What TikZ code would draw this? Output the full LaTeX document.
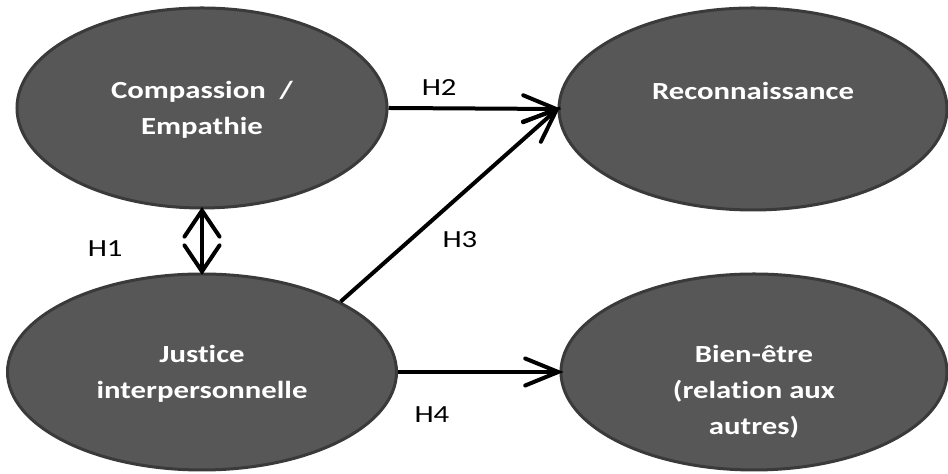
\documentclass[tikz,border=0pt]{standalone}
\usepackage{fontspec}
\setmainfont{Carlito}[FakeStretch=1.25, Ligatures=NoCommon]
\usetikzlibrary{shapes.geometric,arrows.meta}
\definecolor{ovalfill}{RGB}{87,87,87}
\definecolor{ovaldraw}{RGB}{58,58,58}

\begin{document}
\begin{tikzpicture}[
    oval/.style={ellipse, fill=ovalfill, draw=ovaldraw, line width=0.06cm,
                 inner sep=0pt},
    ovaltext/.style={anchor=north, text=white, align=center, inner sep=0pt,
                     font=\fontsize{14}{20.5}\selectfont\bfseries},
    hlbl/.style={font=\fontsize{14}{16}\selectfont, inner sep=0pt},
    link/.style={line width=0.08cm, ->, shorten >=-0.08cm,
                 >={Straight Barb[length=0.66cm, width=0.54cm, line cap=round]}},
    dlink/.style={line width=0.08cm, <->, shorten <=-0.05cm, shorten >=-0.05cm,
                  >={Straight Barb[length=0.52cm, width=0.7cm, line cap=round]}}
  ]
  \useasboundingbox (0,0) rectangle (18.96,9.48);

  \node[oval, minimum width=7.4cm,  minimum height=4cm]    (comp) at (4.04, 7.32) {};
  \node[oval, minimum width=7.76cm, minimum height=4.04cm] (reco) at (15.06,7.30) {};
  \node[oval, minimum width=7.78cm, minimum height=3.92cm] (just) at (4.04, 2.04) {};
  \node[oval, minimum width=7.72cm, minimum height=3.92cm] (bien) at (15.08,2.04) {};

  \node[ovaltext] (comptxt) at ([yshift=0.55cm]comp.center) {Compassion\ \ /\\Empathie};
  \node[ovaltext] (recotxt) at ([yshift=0.55cm]reco.center) {Reconnaissance};
  \node[ovaltext] (justtxt) at ([yshift=0.55cm]just.center) {Justice\\interpersonnelle};
  \node[ovaltext] (bientxt) at ([yshift=0.55cm]bien.center) {Bien-être\\(relation aux\\autres)};

  \draw[dlink] (comp.south) -- node[hlbl, left=1.55cm, yshift=-0.16cm] (h1) {H1} (just.north);
  \draw[link] (comp.east) -- node[hlbl, pos=0.30, above=0.22cm] (h2) {H2} (reco.west);
  \draw[link] (just.north east) -- node[hlbl, pos=0.55, below=0.68cm] (h3) {H3} (reco.west);
  \draw[link] (just.east) -- node[hlbl, pos=0.21, below=0.66cm] (h4) {H4} (bien.west);
\end{tikzpicture}
\end{document}
